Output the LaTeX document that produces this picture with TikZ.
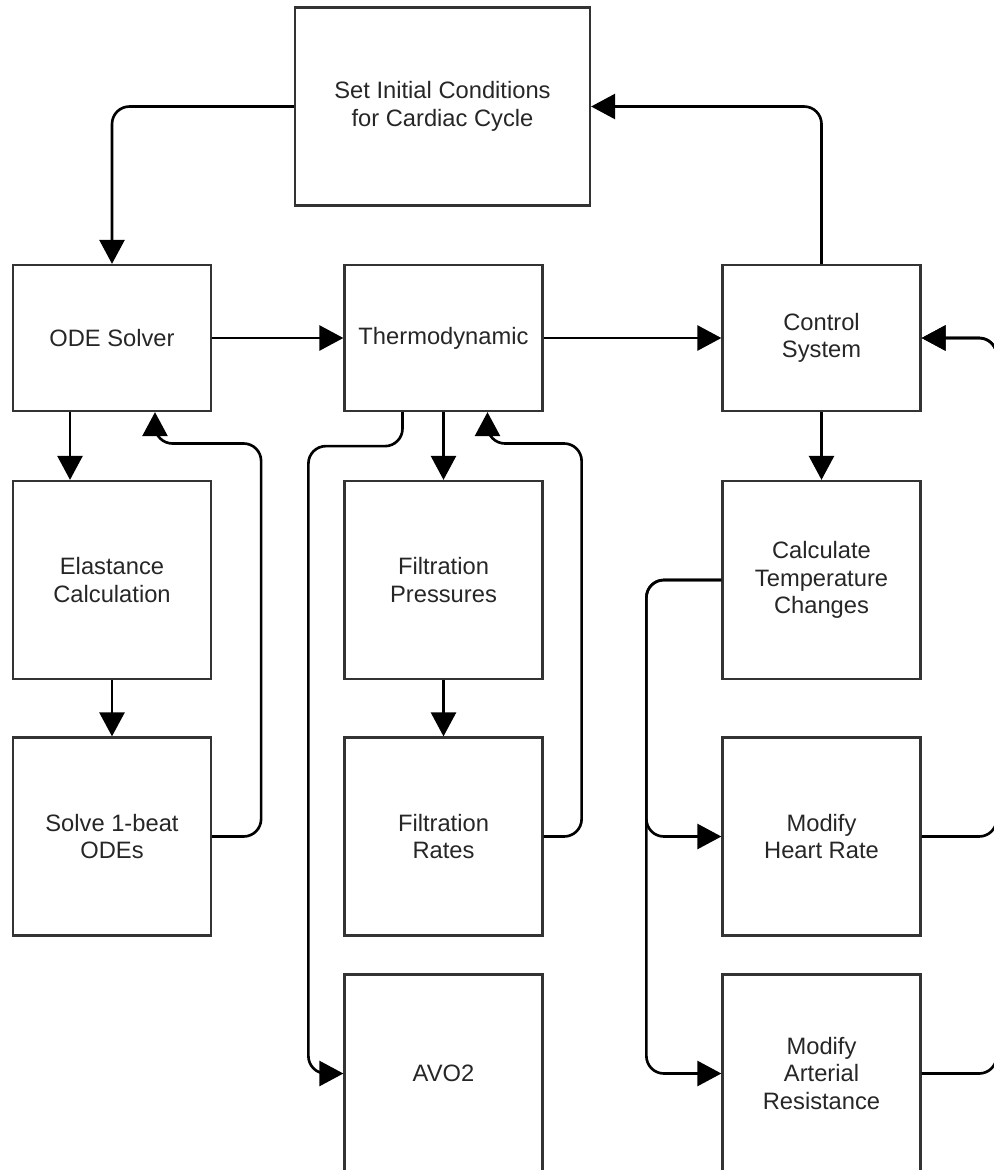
\documentclass[tikz,border=0pt]{standalone}
\usepackage{fontspec}
\setmainfont{Liberation Sans}
\usetikzlibrary{arrows.meta}

\begin{document}
\begin{tikzpicture}[x=0.02cm, y=-0.02cm,
    box/.style={rectangle, draw=black!80, line width=1.3pt, minimum width=3.96cm, minimum height=3.96cm, align=center, font=\fontsize{13.5}{15.6}\selectfont, text=black!85, inner sep=2pt},
    topbox/.style={box, minimum height=2.92cm},
    arrow/.style={-{Triangle[length=0.48cm, width=0.5cm]}, line width=1.5pt, rounded corners=0.35cm}
]
\useasboundingbox (0,0) rectangle (994,1170);
\clip (0,0) rectangle (994,1170);

% Start of cycle and top row
\node[box, minimum width=5.9cm] (init) at (442.5,106.5) {Set Initial Conditions\\for Cardiac Cycle};
\node[topbox] (ode) at (112,338) {ODE Solver};
\node[topbox] (thermo) at (443.5,338) {Thermodynamic};
\node[topbox] (ctrl) at (821.5,338) {Control\\System};

% Columns below
\node[box] (elast) at (112,580) {Elastance\\Calculation};
\node[box] (solve) at (112,836.5) {Solve 1-beat\\ODEs};
\node[box] (fpress) at (443.5,580) {Filtration\\Pressures};
\node[box] (frate) at (443.5,836.5) {Filtration\\Rates};
\node[box] (avo) at (443.5,1073.5) {AVO2};
\node[box] (temp) at (821.5,580) {Calculate\\Temperature\\Changes};
\node[box] (hr) at (821.5,836.5) {Modify\\Heart Rate};
\node[box] (ar) at (821.5,1073.5) {Modify\\Arterial\\Resistance};

% Arrows
\draw[arrow] (init.west) -| (ode.north);
\draw[arrow] (ctrl.north) |- (init.east);
\draw[arrow] (ode.east) -- (thermo.west);
\draw[arrow] (thermo.east) -- (ctrl.west);

\draw[arrow] ([xshift=-0.84cm]ode.south) -- ([xshift=-0.84cm]elast.north);
\draw[arrow] (elast.south) -- (solve.north);
\draw[arrow] (solve.east) -| ++(49,-393) -| ([xshift=0.86cm]ode.south);

\draw[arrow] (thermo.south) -- (fpress.north);
\draw[arrow] (fpress.south) -- (frate.north);
\draw[arrow] (frate.east) -| ++(38,-393) -| ([xshift=0.88cm]thermo.south);
\draw[arrow] ([xshift=-0.82cm]thermo.south) -- ++(0,34) -| ([xshift=-0.7cm]avo.west) -- (avo.west);

\draw[arrow] (ctrl.south) -- (temp.north);
\draw[arrow] (temp.west) -| ([xshift=-1.5cm]hr.west) -- (hr.west);
\draw[arrow] (temp.west) -| ([xshift=-1.5cm]ar.west) -- (ar.west);
\draw[arrow] (hr.east) -- ++(75,0) |- (ctrl.east);
\draw[arrow] (ar.east) -- ++(75,0) |- (ctrl.east);

\end{tikzpicture}
\end{document}
